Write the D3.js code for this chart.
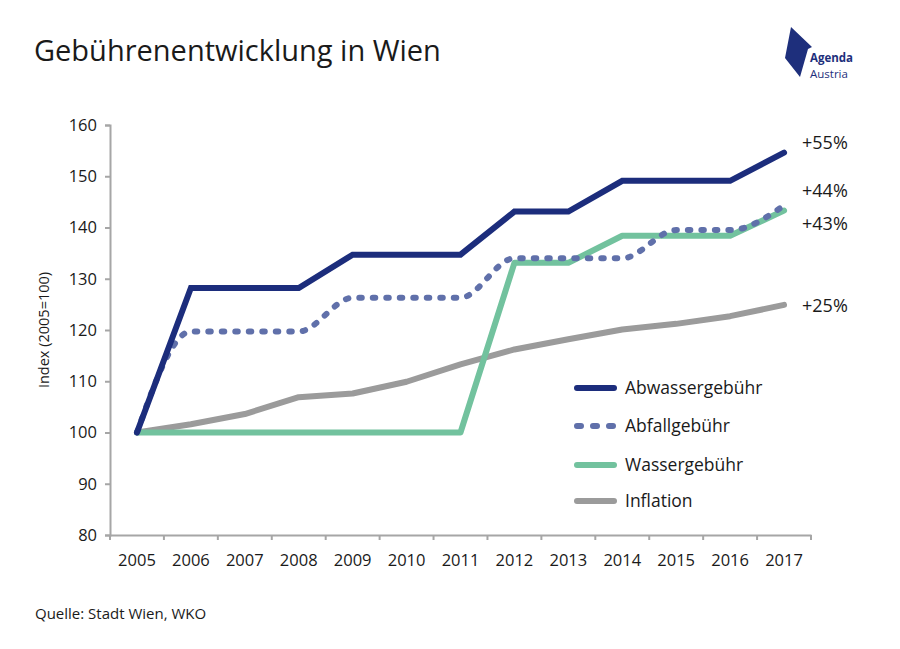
<!DOCTYPE html>
<html lang="de">
  <head>
    <meta charset="utf-8">
    <title>Gebührenentwicklung in Wien</title>
    <script src="https://d3js.org/d3.v7.js"></script>
    <style>
      body { margin: 0; background: white; }
      text { font-family: "Open Sans", Lato, sans-serif; fill: #1a1a1a; }
    </style>
  </head>
  <body>
    <script>

      // data
      const years = ["2005", "2006", "2007", "2008", "2009", "2010", "2011",
                     "2012", "2013", "2014", "2015", "2016", "2017"];

      const abwasser = [100, 128.2, 128.2, 128.2, 134.7, 134.7, 134.7, 143.1, 143.1, 149.1, 149.1, 149.1, 154.6];
      const abfall   = [100, 119.7, 119.7, 119.7, 126.3, 126.3, 126.3, 134.0, 134.0, 134.0, 139.5, 139.5, 144.3];
      const wasser   = [100, 100, 100, 100, 100, 100, 100, 133.1, 133.1, 138.4, 138.4, 138.4, 143.3];
      const inflation = [100, 101.6, 103.6, 106.9, 107.6, 109.9, 113.3, 116.2, 118.2, 120.1, 121.2, 122.7, 124.9];

      const seriesNames = ["Abwassergebühr", "Abfallgebühr", "Wassergebühr", "Inflation"];
      const endLabels = ["+55%", "+44%", "+43%", "+25%"];
      const yTicks = [80, 90, 100, 110, 120, 130, 140, 150, 160];

      const w = 900;
      const h = 649;
      const margin = {top: 125, right: 89, bottom: 114, left: 110};

      const colors = ["#1c2d7c", "#6070aa", "#72c29e", "#9b9b9b"];
      const font = "'Open Sans', Lato, sans-serif";

      const svg = d3.select("body")
                    .append("svg")
                    .attr("width", w)
                    .attr("height", h);

      const xScale = d3.scaleBand()
                       .domain(years)
                       .range([margin.left, w - margin.right])
                       .padding(0);

      const yScale = d3.scaleLinear()
                       .domain([80, 160])
                       .range([h - margin.bottom, margin.top]);

      const xc = d => xScale(d) + xScale.bandwidth() / 2;

      // title
      svg.append("text")
         .attr("x", 34)
         .attr("y", 61)
         .style("font-size", "29px")
         .text("Gebührenentwicklung in Wien");

      // logo
      const logo = svg.append("g");
      logo.append("path")
          .attr("d", "M791,27 L812,47 L808,49 L800,77 L785,58 Z")
          .attr("fill", "#1e2f7c");
      logo.append("text")
          .attr("x", 810)
          .attr("y", 62)
          .style("font-size", "11.5px")
          .style("font-weight", "bold")
          .style("fill", "#1e2f7c")
          .text("Agenda");
      logo.append("text")
          .attr("x", 810)
          .attr("y", 78)
          .style("font-size", "11.5px")
          .style("fill", "#1e2f7c")
          .text("Austria");

      // axes
      const axisColor = "#a6a6a6";

      const yAxis = d3.axisLeft(yScale)
                      .tickValues(yTicks)
                      .tickSize(5)
                      .tickPadding(8);

      const gy = svg.append("g")
                    .attr("transform", `translate(${margin.left},0)`)
                    .call(yAxis);

      const xAxis = d3.axisBottom(xScale)
                      .tickSize(0)
                      .tickPadding(19);

      const gx = svg.append("g")
                    .attr("transform", `translate(0,${h - margin.bottom})`)
                    .call(xAxis);

      // ticks between the years
      const bounds = years.map(d => xScale(d)).concat([xScale.range()[1]]);
      gx.selectAll(".bound")
        .data(bounds)
        .enter().append("line")
        .attr("class", "bound")
        .attr("x1", d => d)
        .attr("x2", d => d)
        .attr("y1", 0)
        .attr("y2", 5)
        .attr("stroke", axisColor)
        .attr("stroke-width", 2);

      [gx, gy].forEach(g => {
        g.select(".domain").attr("stroke", axisColor).attr("stroke-width", 2);
        g.selectAll(".tick line").attr("stroke", axisColor).attr("stroke-width", 2);
        g.selectAll(".tick text")
         .style("font-family", font)
         .style("font-size", "16.5px")
         .attr("fill", "#1a1a1a");
      });

      // y axis title
      svg.append("text")
         .attr("transform", `translate(49,${yScale(120)}) rotate(-90)`)
         .attr("text-anchor", "middle")
         .style("font-size", "14.5px")
         .text("Index (2005=100)");

      // lines
      const straight = d3.line()
                         .x((d, i) => xc(years[i]))
                         .y(d => yScale(d));

      const smooth = d3.line()
                       .x((d, i) => xc(years[i]))
                       .y(d => yScale(d))
                       .curve(d3.curveMonotoneX);

      const plot = svg.append("g");

      plot.append("path")
          .datum(inflation)
          .attr("d", straight)
          .attr("fill", "none")
          .attr("stroke", colors[3])
          .attr("stroke-width", 6)
          .attr("stroke-linejoin", "round")
          .attr("stroke-linecap", "round");

      plot.append("path")
          .datum(wasser)
          .attr("d", straight)
          .attr("fill", "none")
          .attr("stroke", colors[2])
          .attr("stroke-width", 6)
          .attr("stroke-linejoin", "round")
          .attr("stroke-linecap", "round");

      plot.append("path")
          .datum(abfall)
          .attr("d", smooth)
          .attr("fill", "none")
          .attr("stroke", colors[1])
          .attr("stroke-width", 6)
          .attr("stroke-dasharray", "2.5 11")
          .attr("stroke-linecap", "round");

      plot.append("path")
          .datum(abwasser)
          .attr("d", straight)
          .attr("fill", "none")
          .attr("stroke", colors[0])
          .attr("stroke-width", 6)
          .attr("stroke-linejoin", "miter")
          .attr("stroke-linecap", "round");

      // end labels
      const endY = [143, 191, 224, 306];
      svg.selectAll(".endlabel")
         .data(endLabels)
         .enter().append("text")
         .attr("class", "endlabel")
         .attr("x", 802)
         .attr("y", (d, i) => endY[i] + 6)
         .style("font-size", "18px")
         .text(d => d);

      // legend
      const legendY = [388, 426, 465, 501];
      const legend = svg.selectAll(".legend")
                        .data(seriesNames)
                        .enter().append("g")
                        .attr("class", "legend")
                        .attr("transform", (d, i) => `translate(0,${legendY[i]})`);

      legend.append("line")
            .attr("x1", 577)
            .attr("x2", 614)
            .attr("stroke", (d, i) => colors[i])
            .attr("stroke-width", 6)
            .attr("stroke-linecap", "round")
            .attr("stroke-dasharray", (d, i) => i === 1 ? "4 12" : null);

      legend.append("text")
            .attr("x", 625)
            .attr("y", 6)
            .style("font-size", "17.5px")
            .text(d => d);

      // source
      svg.append("text")
         .attr("x", 35)
         .attr("y", 619)
         .style("font-size", "15px")
         .text("Quelle: Stadt Wien, WKO");

    </script>
  </body>
</html>
